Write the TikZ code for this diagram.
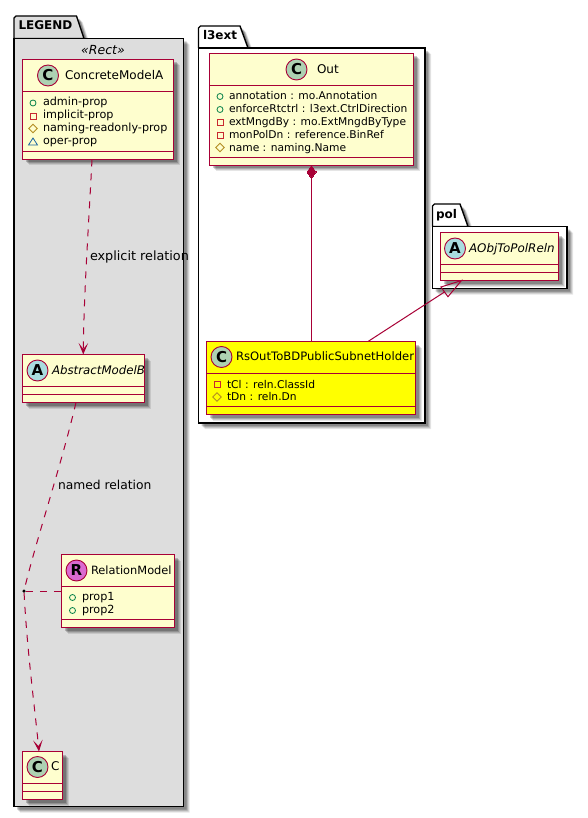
\documentclass[tikz,border=0pt]{standalone}
\usepackage{fontspec}
\setmainfont{DejaVu Sans}
\newfontfamily\lblfont{DejaVu Sans}
\usetikzlibrary{arrows.meta,calc,shapes.geometric}
\definecolor{umlred}{HTML}{A80036}
\definecolor{umlfill}{HTML}{FEFECE}
\definecolor{umlyellow}{HTML}{FFFF00}
\definecolor{cgreen}{HTML}{ADD1B2}
\definecolor{ablue}{HTML}{A9DCDF}
\definecolor{rpink}{HTML}{DA6AD0}
\definecolor{legendgray}{HTML}{DDDDDD}
\definecolor{icgreen}{HTML}{038048}
\definecolor{icred}{HTML}{C82930}
\definecolor{icgold}{HTML}{B38D22}
\definecolor{icblue}{HTML}{1963A0}
\tikzset{
  boxnode/.style={rectangle,inner sep=0pt,outer sep=0pt,draw=umlred,line width=1.6pt},
  pkgnode/.style={rectangle,inner sep=0pt,outer sep=0pt,draw=black,line width=1.4pt},
  circ/.style={circle,draw=umlred,line width=0.9pt,minimum size=21pt,inner sep=0pt,outer sep=0pt,font=\lblfont\fontsize{15}{15}\selectfont\bfseries},
  title/.style={inner sep=0pt,outer sep=0pt,anchor=mid west,yshift=-0.8pt,font=\lblfont\fontsize{12}{13}\selectfont},
  ititle/.style={title,font=\lblfont\fontsize{11.8}{13}\selectfont\itshape},
  attr/.style={inner sep=0pt,outer sep=0pt,anchor=mid west,yshift=-0.8pt,font=\lblfont\fontsize{10.7}{12}\selectfont},
  lattr/.style={attr,font=\lblfont\fontsize{11.2}{12}\selectfont},
  elabel/.style={inner sep=0pt,outer sep=0pt,anchor=mid west,yshift=-1.2pt,font=\lblfont\fontsize{12.5}{13}\selectfont},
  pkgtext/.style={inner sep=0pt,outer sep=0pt,anchor=mid west,font=\lblfont\fontsize{12}{13}\selectfont\bfseries},
  link/.style={draw=umlred,line width=1pt},
  dashlink/.style={link,dash pattern=on 7pt off 7pt},
  deptip/.style={-{Stealth[length=11.5pt,width=9.5pt,inset=6pt,fill=umlred]}},
  ring/.style={draw=icgreen,line width=0.8pt},
  sq/.style={draw=icred,line width=0.8pt},
  dia/.style={draw=icgold,line width=0.8pt},
  tri/.style={draw=icblue,line width=0.8pt}
}
\newcommand{\softshadow}[4]{%
  \foreach \o/\a in {6/0.1,5/0.12,4/0.16,3/0.2}{%
    \fill[black,opacity=\a] (#1+\o,#2+\o) rectangle (#3+\o,#4+\o);}}
\newcommand{\umlclass}[8]{%
  \softshadow{#2}{#3}{#4}{#5}
  \node[boxnode,fill=#8,minimum width={(#4-#2)*1pt},minimum height={(#5-#3)*1pt}] (#1) at ({(#2+#4)/2},{(#3+#5)/2}) {};
  \draw[umlred,line width=1.6pt] (#2,#6) -- (#4,#6) (#2,#7) -- (#4,#7);}
\newcommand{\pkg}[9]{%
  \foreach \o/\a in {6/0.1,5/0.12,4/0.16,3/0.2}{%
    \fill[black,opacity=\a] (#2+\o,#3+\o) -- (#2+\o,#8+\o) -- (#6+\o,#8+\o) -- (#7+\o,#3+\o) -- (#4+\o,#3+\o) -- (#4+\o,#5+\o) -- (#2+\o,#5+\o) -- cycle;}
  \draw[black,line width=1.4pt,line join=round,fill=#9] (#2,#3) -- (#2,#8+2) -- (#2+2,#8) -- (#6,#8) -- (#7,#3) -- cycle;
  \node[pkgnode,fill=#9,minimum width={(#4-#2)*1pt},minimum height={(#5-#3)*1pt}] (#1) at ({(#2+#4)/2},{(#3+#5)/2}) {};}
\newcommand{\icring}[2]{\draw[ring] (#1,#2) circle (3);}
\newcommand{\icsq}[2]{\draw[sq] (#1-3,#2-3) rectangle (#1+3,#2+3);}
\newcommand{\icdia}[2]{\draw[dia] (#1-4.2,#2) -- (#1,#2-4.2) -- (#1+4.2,#2) -- (#1,#2+4.2) -- cycle;}
\newcommand{\ictri}[2]{\draw[tri] (#1-4.5,#2+3.5) -- (#1,#2-3.5) -- (#1+4.5,#2+3.5) -- cycle;}
\begin{document}
\begin{tikzpicture}[x=1pt,y=-1pt]
\useasboundingbox (0,0) rectangle (587,818);
% packages
\pkg{legend}{14}{38.5}{183.5}{806.5}{76.5}{84}{16}{legendgray}
\node[pkgtext] (legendlbl) at (18.5,27) {LEGEND};
\pkg{lthree}{198.5}{48}{425}{423}{240}{248}{26}{white}
\node[pkgtext] (lthreelbl) at (203,37) {l3ext};
\pkg{pol}{432.5}{226.5}{567}{288.5}{460}{468}{204}{white}
\node[pkgtext] (pollbl) at (436,216) {pol};
\node[inner sep=0pt,font=\lblfont\fontsize{12.5}{13}\selectfont\itshape] (rectlbl) at (103,50.5) {«Rect»};
% classes
\umlclass{concrete}{22.5}{59.5}{173.5}{159.5}{91.5}{151.5}{umlfill}
\node[circ,fill=cgreen] (ccirc) at (48,75.5) {C};
\node[title] (ctitle) at (65,75.5) {ConcreteModelA};
\icring{33}{103}\node[lattr] (a1) at (43,102) {admin-prop};
\icsq{33}{116}\node[lattr] (a2) at (43,115) {implicit-prop};
\icdia{33}{128.5}\node[lattr] (a3) at (43,128) {naming-readonly-prop};
\ictri{33}{141.5}\node[lattr] (a4) at (43,141) {oper-prop};

\umlclass{abstract}{22.5}{354.5}{144.5}{402.5}{386.5}{394.5}{umlfill}
\node[circ,fill=ablue] (acirc) at (37.5,370.5) {A};
\node[ititle] (atitle) at (52,370.5) {AbstractModelB};

\umlclass{relation}{61.5}{554.5}{174.5}{627.5}{586.5}{619.5}{umlfill}
\node[circ,fill=rpink] (rcirc) at (76.5,570.5) {R};
\node[title,font=\lblfont\fontsize{11.4}{13}\selectfont] (rtitle) at (91,570.5) {RelationModel};
\icring{72.5}{597.5}\node[lattr] (r1) at (82,597) {prop1};
\icring{72.5}{610.5}\node[lattr] (r2) at (82,610) {prop2};

\umlclass{cbox}{22.5}{751.5}{62.5}{799.5}{783.5}{791.5}{umlfill}
\node[circ,fill=cgreen] (c2circ) at (37.5,767) {C};
\node[title] (c2title) at (51,767) {C};

\umlclass{out}{209.5}{53.5}{413.5}{165.5}{85.5}{157.5}{umlfill}
\node[circ,fill=cgreen] (ocirc) at (296.5,69.5) {C};
\node[title] (otitle) at (317,69.5) {Out};
\icring{220}{96.5}\node[attr] (o1) at (229,96) {annotation : mo.Annotation};
\icring{220}{109.5}\node[attr] (o2) at (229,109) {enforceRtctrl : l3ext.CtrlDirection};
\icsq{220}{122.5}\node[attr] (o3) at (229,122) {extMngdBy : mo.ExtMngdByType};
\icsq{220}{135.5}\node[attr] (o4) at (229,135) {monPolDn : reference.BinRef};
\icdia{220}{147.5}\node[attr] (o5) at (229,147.5) {name : naming.Name};

\umlclass{holder}{206.5}{341.5}{415.5}{414.5}{373.5}{406.5}{umlyellow}
\node[circ,fill=cgreen] (hcirc) at (221.5,357) {C};
\node[title,font=\lblfont\fontsize{11.6}{13}\selectfont] (htitle) at (236,357) {RsOutToBDPublicSubnetHolder};
\icsq{217}{384.5}\node[attr] (h1) at (227,384.5) {tCl : reln.ClassId};
\icdia{217}{397}\node[attr] (h2) at (227,397) {tDn : reln.Dn};

\umlclass{aobj}{440.5}{232.5}{558.5}{280.5}{264.5}{272.5}{umlfill}
\node[circ,fill=ablue] (pcirc) at (455,248.5) {A};
\node[ititle,font=\lblfont\fontsize{11.9}{13}\selectfont\itshape] (ptitle) at (469,248.5) {AObjToPolReln};
% connectors
\draw[dashlink,deptip] ([xshift=-6pt]concrete.south) .. controls (89,220) and (84,290) .. ([xshift=-0.25pt]abstract.north);
\node[elabel,font=\lblfont\fontsize{12.8}{13}\selectfont] (l1) at (90,257) {explicit relation};
\node[circle,fill=black,inner sep=0pt,minimum size=3.5pt] (dot) at (24,591) {};
\draw[dashlink] ([xshift=-7.5pt]abstract.south) .. controls (60,470) and (36,540) .. (dot.center);
\node[elabel,font=\lblfont\fontsize{12.3}{13}\selectfont] (l2) at (58,485.5) {named relation};
\draw[dashlink] (dot) -- (relation.west);
\draw[dashlink,deptip] (dot) .. controls (27,650) and (35,710) .. ([xshift=-3.5pt]cbox.north);
\draw[link] ([yshift=-13pt]out.south) -- ([xshift=0.5pt]holder.north);
\node[diamond,fill=umlred,draw=umlred,inner sep=0pt,outer sep=0pt,minimum width=9pt,minimum height=13pt,line width=0pt,anchor=north] (dmd) at (out.south) {};
\draw[link] ([xshift=57pt]holder.north) -- (444.5,292) coordinate (tb);
\draw[link,line join=miter] (tb) -- (441,287) -- (461.5,280.5) -- (448,296.7) -- cycle;
\end{tikzpicture}
\end{document}
